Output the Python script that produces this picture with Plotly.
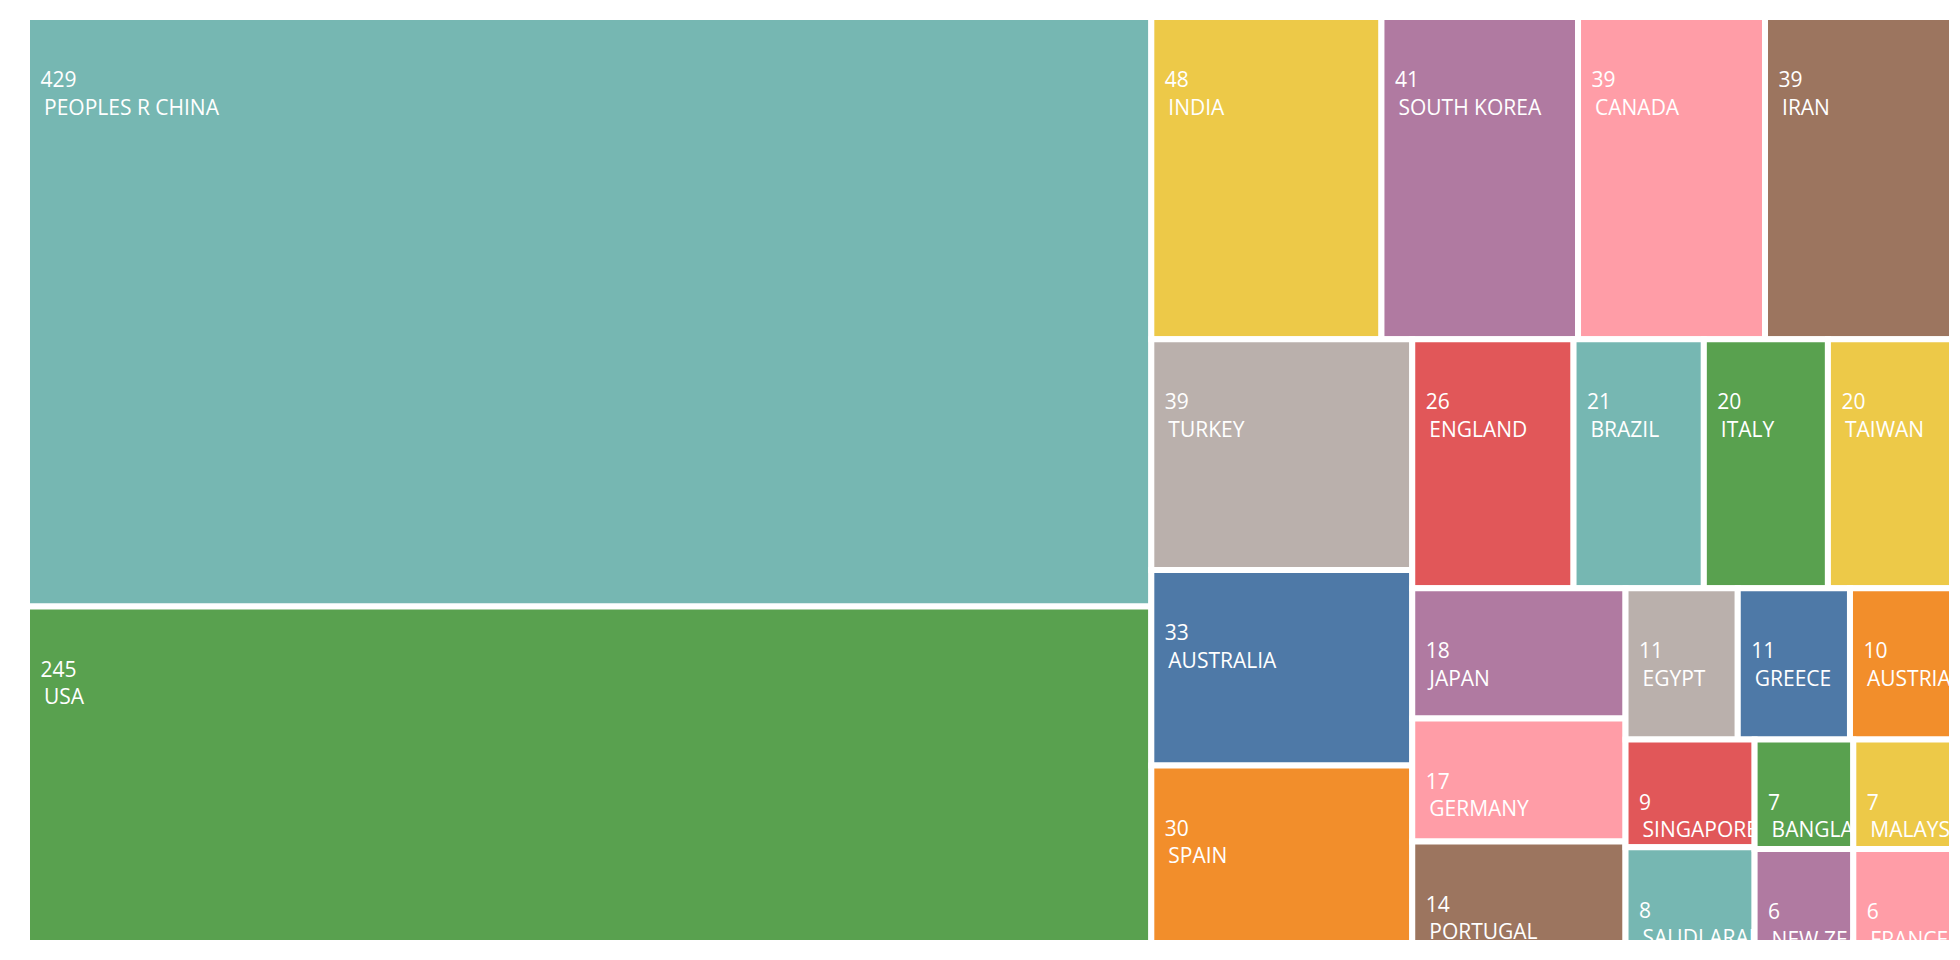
import plotly.graph_objects as go

countries = [
    "PEOPLES R CHINA", "USA", "INDIA", "SOUTH KOREA", "CANADA", "IRAN", "TURKEY",
    "AUSTRALIA", "SPAIN", "ENGLAND", "BRAZIL", "ITALY", "TAIWAN", "JAPAN",
    "GERMANY", "PORTUGAL", "EGYPT", "GREECE", "AUSTRIA", "SINGAPORE",
    "SAUDI ARABIA", "BANGLADESH", "MALAYSIA", "NEW ZEALAND", "FRANCE",
]
counts = [429, 245, 48, 41, 39, 39, 39, 33, 30, 26, 21, 20, 20, 18, 17, 14,
          11, 11, 10, 9, 8, 7, 7, 6, 6]

palette = ["#4e79a7", "#f28e2b", "#e15759", "#76b7b2", "#59a14f",
           "#edc948", "#b07aa1", "#ff9da7", "#9c755f", "#bab0ac"]
colors = [palette[(i + 3) % len(palette)] for i in range(len(countries))]

fig = go.Figure(go.Treemap(
    labels=countries,
    parents=[""] * len(countries),
    values=counts,
    sort=True,
    tiling=dict(packing="squarify", squarifyratio=1.618034, pad=0),
    marker=dict(colors=colors, line=dict(color="white", width=6),
                pad=dict(t=0, l=0, r=0, b=0)),
    texttemplate=("<span style='font-size:37px'>\u00a0</span><br>"
                  "\u2002%{value}<br>\u2002\u2006%{label}"),
    textposition="top left",
    textfont=dict(family="Open Sans", size=21, color="white"),
    pathbar=dict(visible=False),
    hoverinfo="label+value",
))

fig.update_layout(
    width=1944, height=944,
    margin=dict(l=19, r=0, t=9, b=9),
    paper_bgcolor="white",
    uniformtext=dict(minsize=21, mode="show"),
    font=dict(family="Open Sans"),
)

fig.write_html("out.html")
